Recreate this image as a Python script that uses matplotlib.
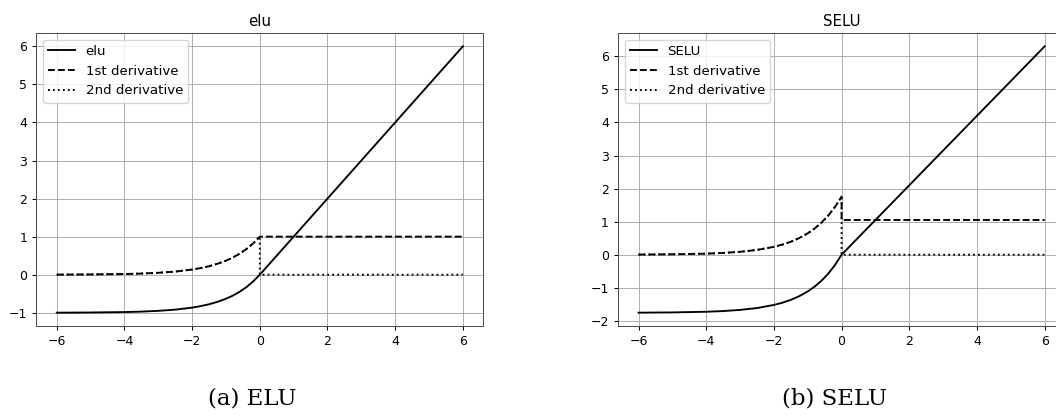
import matplotlib
matplotlib.use('Agg')
import numpy as np
from matplotlib import pyplot as plt

# sample points (x < 0 part), then the straight part up to x = 6
x_neg = [-6, -5, -4, -3.5, -3, -2.5, -2, -1.75, -1.5, -1.25, -1, -0.8, -0.6, -0.4, -0.2, 0]
x_end = 6

elu_neg = [-0.998, -0.993, -0.982, -0.970, -0.950, -0.918, -0.865, -0.826, -0.777,
           -0.713, -0.632, -0.551, -0.451, -0.330, -0.181, 0.0]
elu_d1_neg = [0.002, 0.007, 0.018, 0.030, 0.050, 0.082, 0.135, 0.174, 0.223,
              0.287, 0.368, 0.449, 0.549, 0.670, 0.819, 1.0]
elu_end = 6.0
elu_d1_pos = 1.0
elu_d2_pos = 0.0

selu_neg = [-1.754, -1.746, -1.726, -1.705, -1.670, -1.614, -1.520, -1.453, -1.366,
            -1.254, -1.111, -0.968, -0.793, -0.580, -0.319, 0.0]
selu_d1_neg = [0.004, 0.012, 0.032, 0.053, 0.088, 0.144, 0.238, 0.306, 0.392,
               0.504, 0.647, 0.790, 0.965, 1.178, 1.439, 1.758]
selu_end = 6.304
selu_d1_pos = 1.0507
selu_d2_pos = 0.0

s = 0.9
plt.rcParams['font.size'] = 10 * s
plt.rcParams['legend.fontsize'] = 9.6
plt.rcParams['axes.linewidth'] = 0.8 * s
plt.rcParams['axes.edgecolor'] = '0.3'
plt.rcParams['grid.linewidth'] = 0.8 * s
plt.rcParams['xtick.major.width'] = 0.8 * s
plt.rcParams['ytick.major.width'] = 0.8 * s
plt.rcParams['xtick.major.size'] = 3.5 * s
plt.rcParams['ytick.major.size'] = 3.5 * s
plt.rcParams['axes.titlesize'] = 12 * s
plt.rcParams['axes.titlepad'] = 6 * s


def draw(ax, title, label, f_neg, d1_neg, f_end, d1_pos, d2_pos):
    xf = x_neg + [x_end]
    ax.plot(xf, f_neg + [f_end], 'k-', lw=1.5 * s, label=label)
    xd = x_neg + [0, x_end]
    ax.plot(xd, d1_neg + [d1_pos, d1_pos], 'k--', lw=1.5 * s, label='1st derivative')
    ax.plot(xd, d1_neg + [d2_pos, d2_pos], 'k:', lw=1.5 * s, label='2nd derivative')
    ax.set_xticks(range(-6, 7, 2))
    ax.grid(True)
    ax.set_title(title)
    ax.legend(loc='upper left')


fig = plt.figure(figsize=(10.56, 4.16), dpi=100)
ax1 = fig.add_axes([36.4 / 1056, 90 / 416, 446.8 / 1056, 293 / 416])
ax2 = fig.add_axes([618.2 / 1056, 90 / 416, 446.8 / 1056, 293 / 416])

draw(ax1, 'elu', 'elu', elu_neg, elu_d1_neg, elu_end, elu_d1_pos, elu_d2_pos)
draw(ax2, 'SELU', 'SELU', selu_neg, selu_d1_neg, selu_end, selu_d1_pos, selu_d2_pos)

fig.text(252 / 1056, 1 - 399 / 416, '(a) ELU', ha='center', va='center',
         family='DejaVu Serif', size=16.5)
fig.text(835 / 1056, 1 - 399 / 416, '(b) SELU', ha='center', va='center',
         family='DejaVu Serif', size=16.5)

fig.savefig('out.png', dpi=100)
